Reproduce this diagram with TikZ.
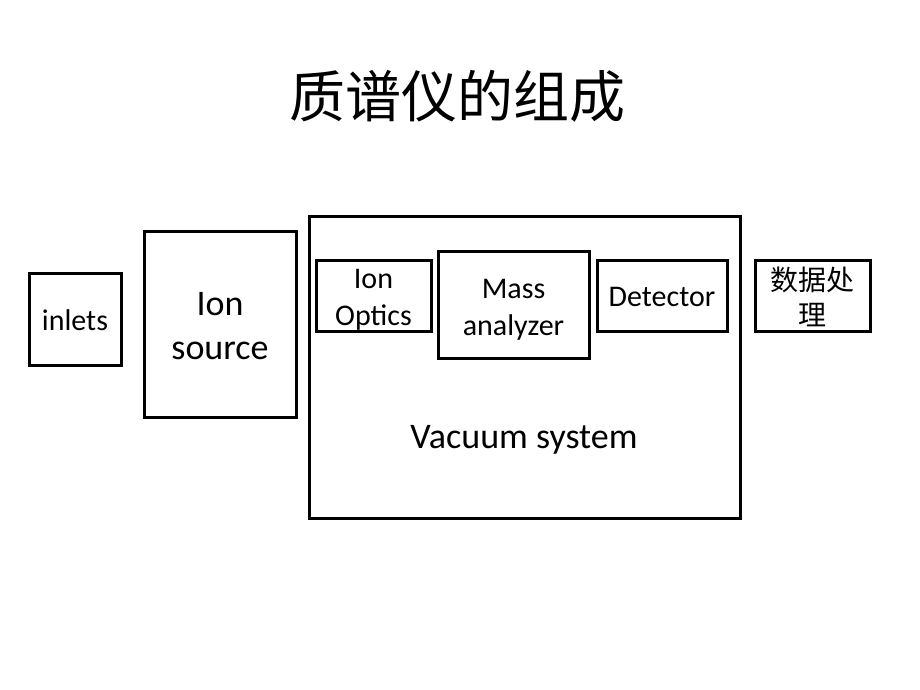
\documentclass[tikz,border=0pt]{standalone}
\usepackage{fontspec}
\setmainfont{Carlito}
\newfontfamily\cjk{Noto Sans CJK SC}
\begin{document}
\begin{tikzpicture}[x=1pt,y=-1pt,
  box/.style={draw=black,line width=3pt,inner sep=0pt},
  lbl/.style={inner sep=0pt,align=center},
  small/.style={font=\fontsize{30}{37}\selectfont},
  big/.style={font=\fontsize{36}{44}\selectfont}]
\path[fill=white,use as bounding box] (0,0) rectangle (920,690);
\node[lbl,font=\cjk\fontsize{56}{64}\selectfont] (title) at (457,96) {质谱仪的组成};
\node[box,minimum width=92pt,minimum height=92pt] (inlets) at (75,319) {};
\node[box,minimum width=152pt,minimum height=186pt] (source) at (220,324) {};
\node[box,minimum width=431pt,minimum height=302pt] (vac) at (524.5,367) {};
\node[box,minimum width=115pt,minimum height=71pt] (optics) at (373.5,295.5) {};
\node[box,minimum width=151pt,minimum height=107pt] (mass) at (513.5,304.5) {};
\node[box,minimum width=130pt,minimum height=71pt] (det) at (662,295.5) {};
\node[box,minimum width=115pt,minimum height=71pt] (data) at (812.5,295.5) {};
\node[lbl,small] (inletslbl) at ([yshift=-1pt]inlets.center) {inlets};
\node[lbl,big] (sourcelbl) at ([yshift=-2pt]source.center) {Ion\\source};
\node[lbl,big] (vaclbl) at (524,440) {Vacuum system};
\node[lbl,small] (opticslbl) at ([yshift=-4.5pt]optics.center) {Ion\\Optics};
\node[lbl,small] (masslbl) at ([yshift=-5pt]mass.center) {Mass\\analyzer};
\node[lbl,small] (detlbl) at ([yshift=-1pt]det.center) {Detector};
\node[lbl,font=\cjk\fontsize{28}{35}\selectfont] (datalbl) at ([yshift=-1pt]data.center) {数据处\\理};
\end{tikzpicture}
\end{document}
